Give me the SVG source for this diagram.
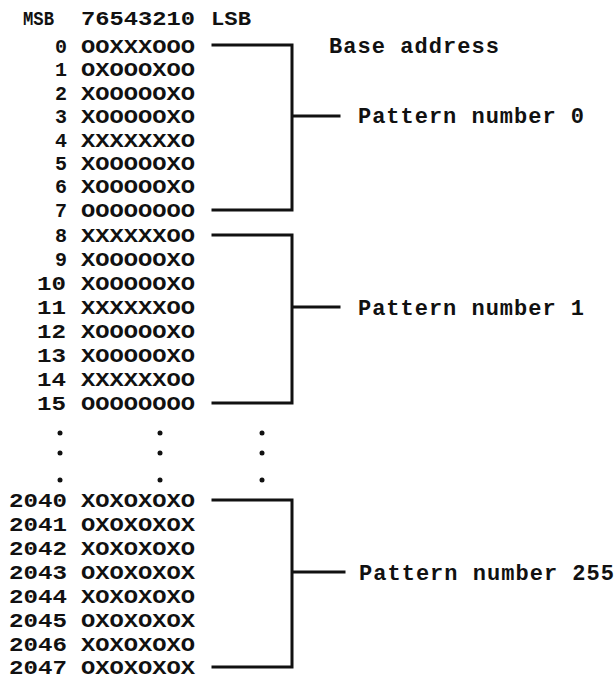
<svg xmlns="http://www.w3.org/2000/svg" width="615" height="679" viewBox="0 0 615 679">
<style>
text{font-family:"Liberation Mono","Courier New",monospace;font-weight:bold;fill:#111;font-size:20px}
.n{text-anchor:end}
.lb{font-size:22px}
.br{fill:none;stroke:#111;stroke-width:3;stroke-linecap:square}
.dot{fill:#111}
</style>
<rect width="615" height="679" fill="#fff"/>
<g id="header">
<text x="23" y="25" textLength="31" lengthAdjust="spacingAndGlyphs">MSB</text>
<text x="81" y="25" textLength="114" lengthAdjust="spacingAndGlyphs">76543210</text>
<text x="211" y="25" textLength="40" lengthAdjust="spacingAndGlyphs">LSB</text>
</g>
<g id="pattern0">
<text class="n" x="67" y="53">0</text><text x="81" y="53" textLength="114" lengthAdjust="spacingAndGlyphs">OOXXXOOO</text>
<text class="n" x="67" y="76">1</text><text x="81" y="76" textLength="114" lengthAdjust="spacingAndGlyphs">OXOOOXOO</text>
<text class="n" x="67" y="100">2</text><text x="81" y="100" textLength="114" lengthAdjust="spacingAndGlyphs">XOOOOOXO</text>
<text class="n" x="67" y="123">3</text><text x="81" y="123" textLength="114" lengthAdjust="spacingAndGlyphs">XOOOOOXO</text>
<text class="n" x="67" y="147">4</text><text x="81" y="147" textLength="114" lengthAdjust="spacingAndGlyphs">XXXXXXXO</text>
<text class="n" x="67" y="170">5</text><text x="81" y="170" textLength="114" lengthAdjust="spacingAndGlyphs">XOOOOOXO</text>
<text class="n" x="67" y="193">6</text><text x="81" y="193" textLength="114" lengthAdjust="spacingAndGlyphs">XOOOOOXO</text>
<text class="n" x="67" y="217">7</text><text x="81" y="217" textLength="114" lengthAdjust="spacingAndGlyphs">OOOOOOOO</text>
</g>
<g id="pattern1">
<text class="n" x="67" y="242">8</text><text x="81" y="242" textLength="114" lengthAdjust="spacingAndGlyphs">XXXXXXOO</text>
<text class="n" x="67" y="266">9</text><text x="81" y="266" textLength="114" lengthAdjust="spacingAndGlyphs">XOOOOOXO</text>
<text x="37" y="290" textLength="29" lengthAdjust="spacingAndGlyphs">10</text><text x="81" y="290" textLength="114" lengthAdjust="spacingAndGlyphs">XOOOOOXO</text>
<text x="37" y="314" textLength="29" lengthAdjust="spacingAndGlyphs">11</text><text x="81" y="314" textLength="114" lengthAdjust="spacingAndGlyphs">XXXXXXOO</text>
<text x="37" y="338" textLength="29" lengthAdjust="spacingAndGlyphs">12</text><text x="81" y="338" textLength="114" lengthAdjust="spacingAndGlyphs">XOOOOOXO</text>
<text x="37" y="362" textLength="29" lengthAdjust="spacingAndGlyphs">13</text><text x="81" y="362" textLength="114" lengthAdjust="spacingAndGlyphs">XOOOOOXO</text>
<text x="37" y="386" textLength="29" lengthAdjust="spacingAndGlyphs">14</text><text x="81" y="386" textLength="114" lengthAdjust="spacingAndGlyphs">XXXXXXOO</text>
<text x="37" y="410" textLength="29" lengthAdjust="spacingAndGlyphs">15</text><text x="81" y="410" textLength="114" lengthAdjust="spacingAndGlyphs">OOOOOOOO</text>
</g>
<g id="ellipsis">
<circle class="dot" cx="60" cy="433" r="2.5"/><circle class="dot" cx="60" cy="453" r="2.5"/><circle class="dot" cx="60" cy="480" r="2.5"/>
<circle class="dot" cx="160" cy="433" r="2.5"/><circle class="dot" cx="160" cy="453" r="2.5"/><circle class="dot" cx="160" cy="480" r="2.5"/>
<circle class="dot" cx="262" cy="433" r="2.5"/><circle class="dot" cx="262" cy="453" r="2.5"/><circle class="dot" cx="262" cy="480" r="2.5"/>
</g>
<g id="pattern255">
<text x="9" y="507" textLength="58" lengthAdjust="spacingAndGlyphs">2040</text><text x="81" y="507" textLength="114" lengthAdjust="spacingAndGlyphs">XOXOXOXO</text>
<text x="9" y="531" textLength="58" lengthAdjust="spacingAndGlyphs">2041</text><text x="81" y="531" textLength="114" lengthAdjust="spacingAndGlyphs">OXOXOXOX</text>
<text x="9" y="555" textLength="58" lengthAdjust="spacingAndGlyphs">2042</text><text x="81" y="555" textLength="114" lengthAdjust="spacingAndGlyphs">XOXOXOXO</text>
<text x="9" y="579" textLength="58" lengthAdjust="spacingAndGlyphs">2043</text><text x="81" y="579" textLength="114" lengthAdjust="spacingAndGlyphs">OXOXOXOX</text>
<text x="9" y="603" textLength="58" lengthAdjust="spacingAndGlyphs">2044</text><text x="81" y="603" textLength="114" lengthAdjust="spacingAndGlyphs">XOXOXOXO</text>
<text x="9" y="627" textLength="58" lengthAdjust="spacingAndGlyphs">2045</text><text x="81" y="627" textLength="114" lengthAdjust="spacingAndGlyphs">OXOXOXOX</text>
<text x="9" y="651" textLength="58" lengthAdjust="spacingAndGlyphs">2046</text><text x="81" y="651" textLength="114" lengthAdjust="spacingAndGlyphs">XOXOXOXO</text>
<text x="9" y="674" textLength="58" lengthAdjust="spacingAndGlyphs">2047</text><text x="81" y="674" textLength="114" lengthAdjust="spacingAndGlyphs">OXOXOXOX</text>
</g>
<g id="connectors">
<path class="br" d="M213 45 H292 V210 H213 M292 116 H339"/>
<path class="br" d="M213 235 H292 V403 H213 M292 307 H339"/>
<path class="br" d="M213 500 H292 V667 H213 M292 572 H344"/>
</g>
<g id="labels">
<text class="lb" x="329" y="53" textLength="170">Base address</text>
<text class="lb" x="358" y="123" textLength="226">Pattern number 0</text>
<text class="lb" x="358" y="315" textLength="226">Pattern number 1</text>
<text class="lb" x="359" y="580" textLength="255">Pattern number 255</text>
</g>
</svg>
